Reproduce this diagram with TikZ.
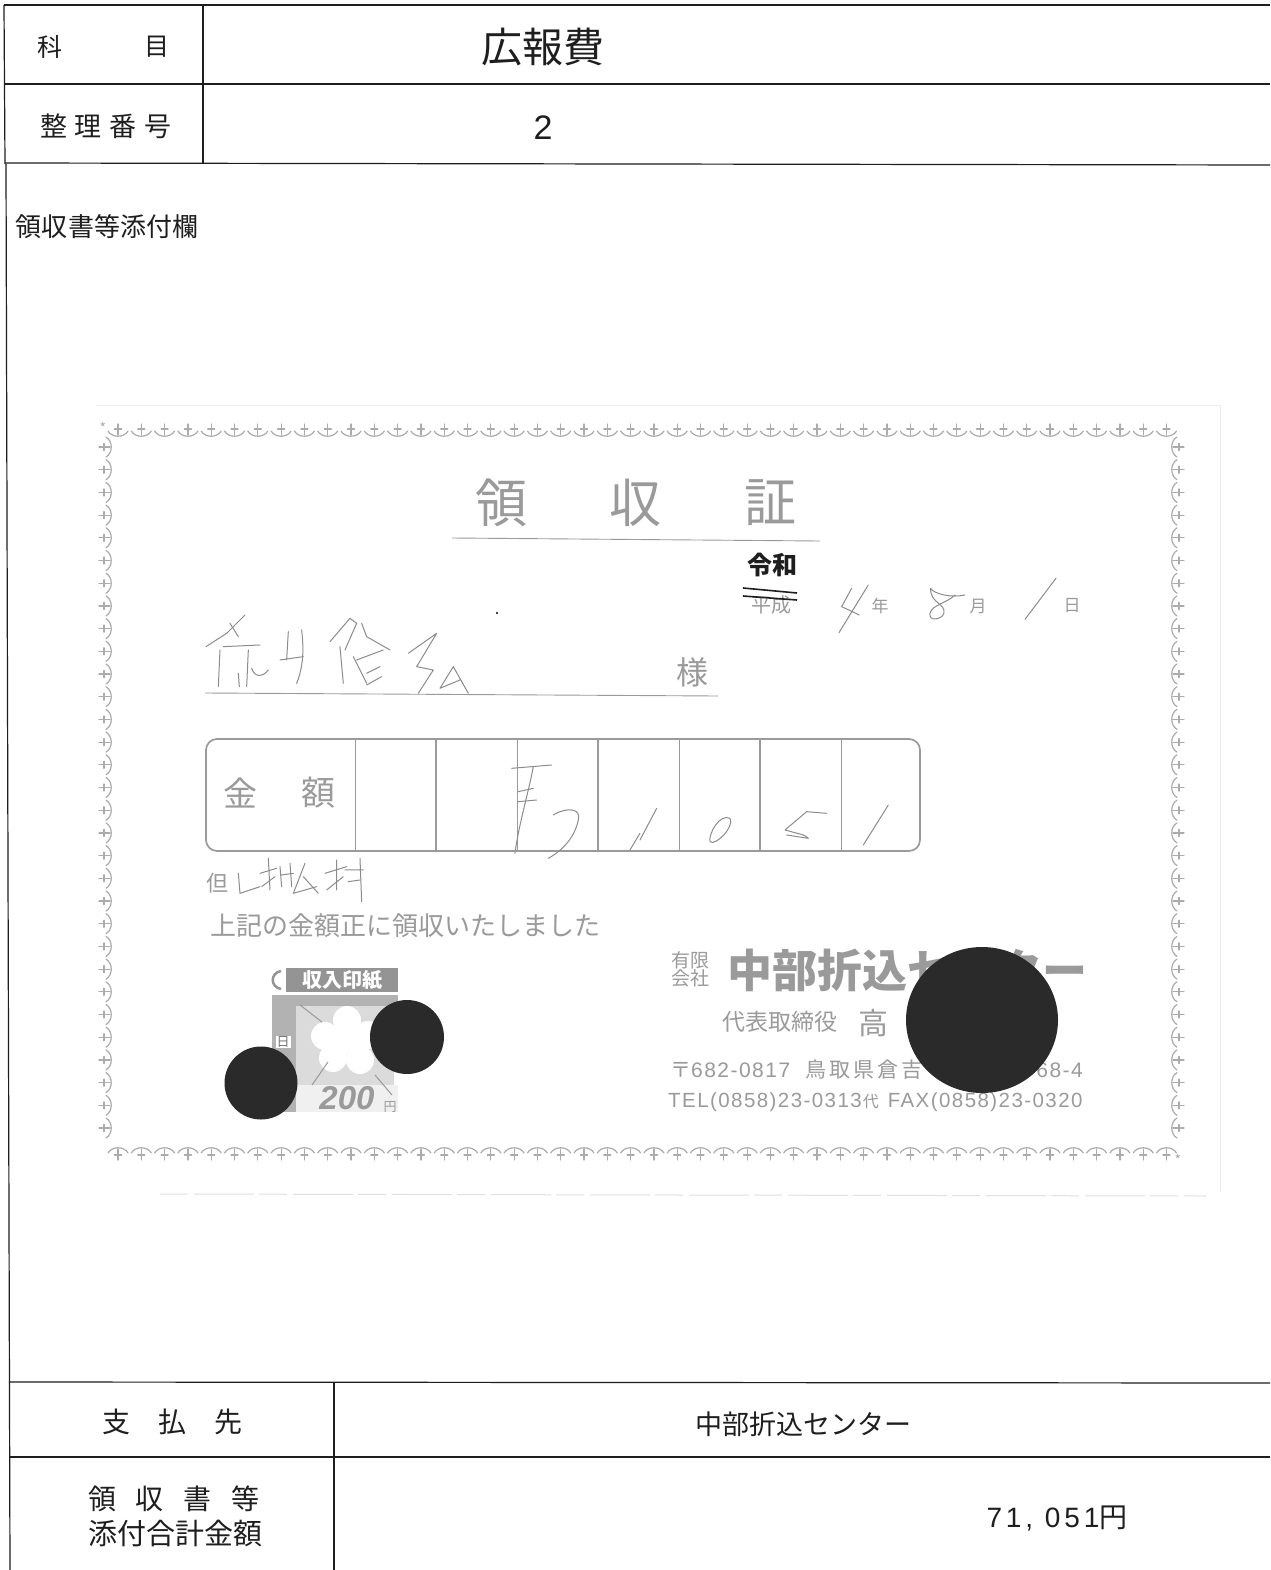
\documentclass[tikz,border=0pt]{standalone}
\usepackage{fontspec}
\setmainfont{Noto Sans CJK JP}
\newfontfamily\latinf{Liberation Sans}
\newfontfamily\latinw[LetterSpace=7]{Liberation Sans}
\newfontfamily\latinx[LetterSpace=14]{Liberation Sans}
\definecolor{ink}{HTML}{1E1E1E}
\definecolor{scan}{HTML}{9A9A9A}
\definecolor{pale}{HTML}{ABABAB}
\definecolor{hand}{HTML}{8C8C8C}
\definecolor{blot}{HTML}{2A2A2A}
\tikzset{
 rule/.style={draw=ink,line width=1.2pt},
 lab/.style={inner sep=0pt,yshift=-2pt,text=ink,font=\fontsize{#1}{#1}\selectfont},
 rcp/.style={inner sep=0pt,yshift=-2pt,text=scan,font=\fontsize{#1}{#1}\selectfont},
 pen/.style={draw=hand,line width=1pt,line cap=round,line join=round},
 zoomA/.style={shift={(180,460)},x=0.3333pt,y=-0.3333pt},
 zoomB/.style={shift={(640,460)},x=0.3333pt,y=-0.3333pt},
 zoomC/.style={shift={(190,730)},x=0.3333pt,y=-0.3333pt},
 zoomD/.style={shift={(640,730)},x=0.3333pt,y=-0.3333pt},
 orn/.pic={
  \draw[pale,line width=1.2pt,line cap=round] (-10,0) .. controls (-6,7) and (6,7) .. (10,0);
  \draw[pale,line width=1.2pt,line cap=round] (0,-7) -- (0,4) (-3.5,-2) -- (3.5,-2);
 }
}
\begin{document}
\begin{tikzpicture}[x=1pt,y=-1pt]
\useasboundingbox (0,0) rectangle (1270,1570);
\fill[white] (0,0) rectangle (1270,1570);

% faint scan frame of the pasted receipt
\draw[draw=black!7,line width=1pt] (96,405) -- (1220,405) -- (1220,1192);
\draw[draw=black!12,line width=1pt,dash pattern=on 28pt off 6pt on 60pt off 5pt] (160,1194) -- (1206,1196);

% form rules
\draw[rule] (4,5) -- (1270,5);
\draw[rule] (4,5) -- (5,164);
\draw[rule] (5,84) -- (1270,84);
\draw[rule] (5,163) -- (1270,165);
\draw[rule] (203,5) -- (203,163);
\draw[rule] (6,164) -- (10,1570);
\draw[rule] (9,1382) -- (1270,1383);
\draw[rule] (10,1457) -- (1270,1457);
\draw[rule] (334,1382) -- (334,1570);

% form texts
\node[lab=25] (t1) at (50,45) {科};
\node[lab=25] (t2) at (157,45) {目};
\node[lab=41] (t3) at (543,45) {広報費};
\node[lab=27] (t4) at (106,124) {整\hspace{8pt}理\hspace{8pt}番\hspace{8pt}号};
\node[lab=34] (t5) at (543,126) {\latinf 2};
\node[lab=26] (t6) at (107,225) {領収書等添付欄};
\node[lab=28] (t7) at (172,1420) {支\hspace{28pt}払\hspace{28pt}先};
\node[lab=27] (t8) at (803,1422) {中部折込センター};
\node[lab=28] (t9) at (174,1497) {領\hspace{20pt}収\hspace{20pt}書\hspace{20pt}等};
\node[lab=29] (t10) at (175,1531) {添付合計金額};
\node[lab=28] (t11) at (1057,1516) {{\latinx 71, 051}円};

% ornamental border
\foreach \i in {0,...,45} \pic at ({118+\i*23.3},431) {orn};
\foreach \i in {0,...,45} \pic[rotate=180] at ({118+\i*23.3},1153) {orn};
\foreach \i in {0,...,30} \pic[rotate=90] at (106,{447+\i*22.7}) {orn};
\foreach \i in {0,...,30} \pic[rotate=-90] at (1177,{447+\i*22.7}) {orn};
\node[inner sep=0pt,text=pale,font=\fontsize{14}{14}\selectfont] (k1) at (103,428) {*};
\node[inner sep=0pt,text=pale,font=\fontsize{14}{14}\selectfont] (k2) at (1178,1160) {*};

% printed receipt
\node[rcp=52] (r1) at (501,501) {領};
\node[rcp=52] (r2) at (635,501) {収};
\node[rcp=52] (r3) at (770,501) {証};
\draw[draw=scan,line width=0.9pt] (452,538) -- (820,541);
\node[inner sep=0pt,text=ink,font=\fontsize{25}{25}\selectfont\bfseries] (r4) at (772,565) {令和};
\node[rcp=20] (r5) at (771,603) {平成};
\draw[draw=ink,line width=1.6pt] (743,588) -- (797,593) (743,596) -- (797,600);
\node[rcp=17] (r6) at (880,604) {年};
\node[rcp=17] (r7) at (978,604) {月};
\node[rcp=17] (r8) at (1072,604) {日};
\node[rcp=32] (r9) at (692,670) {様};
\draw[draw=scan,line width=0.9pt] (205,693) -- (718,696);
\draw[draw=scan,line width=1.7pt,rounded corners=11pt] (206,739) rectangle (920,851);
\foreach \xx/\wd in {355/0.7,436/1.1,517/0.7,598/1.1,679/0.7,760/1.1,841/0.7}
  \draw[draw=scan,line width=\wd pt] (\xx,740) -- (\xx,851);
\node[rcp=34] (r10) at (240,791) {金};
\node[rcp=34] (r11) at (318,791) {額};
\node[rcp=26] (r12) at (405,924) {上記の金額正に領収いたしました};
\node[rcp=22] (r13) at (217,881) {但};

% handwriting
\begin{scope}[zoomA]
\draw[pen] (78,560) -- (140,520) -- (195,465);
\draw[pen] (120,570) -- (115,680) (150,490) -- (175,530);
\draw[pen] (130,560) -- (240,555) (175,640) -- (178,680) (205,570) -- (200,680);
\draw[pen] (215,625) .. controls (225,655) and (250,650) .. (265,630);
\draw[pen] (300,600) -- (370,590) (325,515) -- (320,600);
\draw[pen] (365,510) .. controls (372,570) and (370,620) .. (350,670);
\draw[pen] (450,545) -- (510,475) -- (530,490) -- (495,570);
\draw[pen] (480,560) -- (490,670) (545,490) -- (560,530) -- (630,570);
\draw[pen] (610,570) -- (530,600) (520,590) -- (560,670);
\draw[pen] (560,640) -- (600,620) (560,675) -- (605,650);
\draw[pen] (685,580) -- (770,520) -- (710,620) -- (760,630) -- (715,700);
\draw[pen] (820,620) -- (780,685) -- (840,660) (820,620) -- (865,700);
\end{scope}
\begin{scope}[zoomB]
\draw[pen] (635,385) -- (605,440) -- (658,465) (685,375) -- (597,518);
\draw[pen] (975,405) .. controls (930,415) and (880,400) .. (872,385) .. controls (870,430) and (918,430) .. (912,460) .. controls (905,480) and (865,485) .. (870,460) .. controls (875,435) and (920,430) .. (945,405);
\draw[pen] (1248,355) -- (1155,478);
\end{scope}
\begin{scope}[zoomC]
\draw[pen] (965,115) -- (1085,105) (1030,110) .. controls (1015,190) and (985,290) .. (975,370);
\draw[pen] (985,185) -- (1030,175) (985,215) -- (1040,210);
\draw[pen] (1090,255) .. controls (1130,230) and (1175,235) .. (1165,270) .. controls (1155,320) and (1120,360) .. (1075,385);
\draw[pen] (145,430) -- (150,490) -- (210,470);
\draw[pen] (210,430) -- (260,415) (235,385) -- (240,480) (215,470) -- (255,440);
\draw[pen] (270,410) -- (275,470) (275,435) -- (310,430) (300,400) -- (305,470);
\draw[pen] (345,400) -- (310,490) -- (380,470) (340,440) -- (385,490);
\draw[pen] (405,430) -- (470,410) (440,390) -- (440,480) (410,480) -- (460,440);
\draw[pen] (465,420) -- (520,420) (510,385) -- (515,515) (475,455) -- (510,450);
\draw[pen] (1350,310) -- (1320,360);
\end{scope}
\begin{scope}[zoomD]
\draw[pen] (50,235) -- (0,330);
\draw[pen] (270,265) .. controls (240,250) and (205,310) .. (210,335) .. controls (225,350) and (285,290) .. (270,265);
\draw[pen] (560,250) -- (500,245) -- (435,300) .. controls (470,310) and (500,315) .. (505,325) -- (440,315);
\draw[pen] (745,225) -- (670,345);
\end{scope}

% company block
\node[rcp=19,align=center] (c1) at (690,967) {\fontsize{19}{19}\selectfont 有限\\[-1pt]\fontsize{19}{19}\selectfont 会社};
\node[rcp=45,anchor=west,font=\fontsize{45}{45}\selectfont\bfseries] (c2) at (727,968) {中部折込センター};
\node[rcp=23,anchor=west] (c3) at (722,1020) {代表取締役};
\node[rcp=30] (c4) at (873,1021) {高};
\node[rcp=21,anchor=west] (c5) at (670,1068) {〒{\latinw 682-0817}\hspace{15pt}鳥\hspace{3pt}取\hspace{3pt}県\hspace{3pt}倉\hspace{3pt}吉};
\node[rcp=21,anchor=east] (c6) at (1083,1068) {\latinw 68-4};
\node[rcp=20.5,anchor=west] (c7) at (668,1100) {\latinw TEL(0858)23-0313\hspace{1pt}{\rmfamily\fontsize{16}{16}\selectfont 代}\hspace{9pt}FAX(0858)23-0320};

% revenue stamp
\fill[black!30] (272,995) rectangle (398,1048);
\fill[black!14] (296,1006) rectangle (394,1085);
\fill[black!6] (296,1085) rectangle (398,1112);
\fill[black!30] (272,1048) rectangle (296,1112);
\foreach \a/\b in {347/1020,368/1035,360/1060,333/1058,325/1036}
  \fill[white] (\a,\b) circle (14);
\fill[white] (347,1040) circle (14);
\draw[draw=black!40,line width=1pt] (300,1005) -- (322,1022) (312,1085) -- (328,1062) (375,1075) -- (392,1095);
\fill[black!42] (286,968) rectangle (398,992);
\draw[draw=black!42,line width=2.5pt] (281,971) .. controls (270,973) and (270,987) .. (281,989);
\node[inner sep=0pt,text=white,font=\fontsize{20}{20}\selectfont\bfseries] (s1) at (342,980) {収入印紙};
\node[inner sep=1pt,text=black!55,fill=white,font=\fontsize{13}{13}\selectfont] (s2) at (283,1042) {日};
\node[inner sep=0pt,text=scan,font=\fontsize{33}{33}\selectfont\latinf\bfseries\itshape] (s3) at (347,1098) {200};
\node[rcp=13] (s4) at (390,1105) {円};

% redaction blots
\fill[blot] (261,1083) circle (36.5);
\fill[blot] (407,1037) circle (37);
\fill[blot] (982,1020) ellipse (76 and 73);
\fill[black] (497,613) circle (1.2);
\end{tikzpicture}
\end{document}
